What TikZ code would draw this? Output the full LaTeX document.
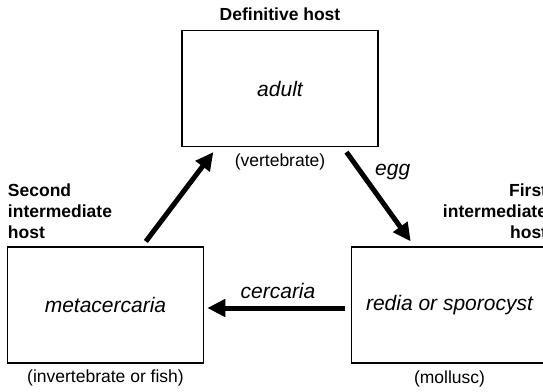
\documentclass[tikz,border=0pt]{standalone}
\usepackage{fontspec}
\setmainfont{Liberation Sans}
\usetikzlibrary{arrows.meta,positioning}
\begin{document}
\begin{tikzpicture}[x=1pt, y=-1pt,
    box/.style={draw, line width=1.5pt, minimum width=196pt, minimum height=116pt,
      inner sep=0pt, font=\fontsize{21}{25}\selectfont\itshape},
    host/.style={inner sep=0pt, font=\fontsize{17.5}{21}\selectfont\bfseries},
    animal/.style={inner sep=0pt, font=\fontsize{17.5}{21}\selectfont},
    stage/.style={inner sep=0pt, font=\fontsize{21}{25}\selectfont\itshape},
    flow/.style={line width=5pt, -{Triangle[length=18pt,width=17pt]},
      shorten >=6pt, shorten <=6pt}]
  \clip (0,0) rectangle (543,391);

  % Life stages
  \node[box] (adult) at (280,88.5) {adult};
  \node[box] (meta) at (105.5,305) {metacercaria};
  \node[box] (redia) at (449.5,305) {redia or sporocyst};

  % Hosts
  \node[host, above=9pt of adult] (defhost) {Definitive host};
  \node[host, align=left, anchor=south west] (second)
    at ([xshift=1pt, yshift=7pt]meta.north west) {Second\\intermediate\\host};
  \node[host, align=right, anchor=south east] (first)
    at ([xshift=-1pt, yshift=7pt]redia.north east) {First\\intermediate\\host};
  \node[animal, below=6pt of adult] (vert) {(vertebrate)};
  \node[animal, below=6pt of meta] (invert) {(invertebrate or fish)};
  \node[animal, below=7pt of redia] (mollusc) {(mollusc)};

  % Transmission
  \draw[flow] (meta.58.5) -- (adult.223.3);
  \draw[flow] (adult.317.3) -- (redia.121.8);
  \draw[flow, shorten >=3pt] ([yshift=-3pt]redia.west) -- ([yshift=-3pt]meta.east);
  \node[stage, anchor=west] (egg) at (375,172) {egg};
  \node[stage] (cercaria) at (278,291) {cercaria};
\end{tikzpicture}
\end{document}
